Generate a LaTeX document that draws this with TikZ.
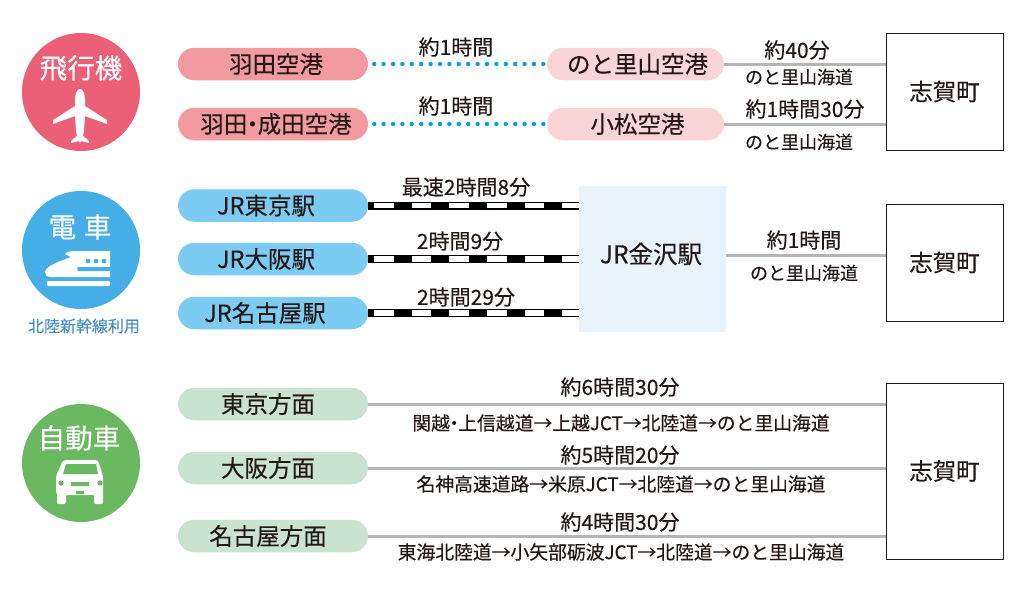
\documentclass[tikz,border=0pt]{standalone}
\usepackage{fontspec}
\setmainfont[FakeBold=0.25]{Noto Sans CJK JP}
\usetikzlibrary{shapes.misc}
\definecolor{txt}{HTML}{231815}
\definecolor{redc}{HTML}{EC6077}
\definecolor{redp}{HTML}{F19BA0}
\definecolor{pinkp}{HTML}{F9D5D6}
\definecolor{bluec}{HTML}{45AEE6}
\definecolor{bluep}{HTML}{7CCBF3}
\definecolor{bluet}{HTML}{4A90C8}
\definecolor{greenc}{HTML}{6AB85F}
\definecolor{greenp}{HTML}{C8E3D0}
\definecolor{paleb}{HTML}{E8F3FB}
\definecolor{roadg}{HTML}{B5B5B5}
\definecolor{dotb}{HTML}{00A0E9}
\newcommand{\sh}[1]{\kern#1pt\relax}
\newcommand{\nd}{\kern-0.28em・\kern-0.28em}
\tikzset{
  x=1pt,y=-1pt,
  pill/.style={rounded rectangle,minimum height=32.5pt,inner sep=0pt,text=txt,font=\fontsize{23.5}{23.5}\selectfont},
  longpill/.style={pill,minimum width=190pt},
  midpill/.style={pill,minimum width=177pt,fill=pinkp},
  dest/.style={draw=txt,line width=1pt,fill=white,minimum width=117pt,inner sep=0pt,text=txt,font=\fontsize{23.4}{23.4}\selectfont},
  lab/.style={inner sep=0pt,text=txt,font=\fontsize{21}{21}\selectfont},
  sub/.style={inner sep=0pt,text=txt,font=\fontsize{18}{18}\selectfont},
  route/.style={inner sep=0pt,text=txt,font=\fontsize{18.8}{18.8}\selectfont},
  disc/.style={circle,minimum size=118pt,inner sep=0pt},
  disclab/.style={inner sep=0pt,text=white,font=\fontsize{27.5}{27.5}\selectfont},
  road/.style={draw=roadg,line width=3pt},
  dots/.style={draw=dotb,line width=4.4pt,line cap=round,dash pattern=on 0pt off 9.4pt,shorten <=6pt,shorten >=3pt},
  rail/.style={draw=black,line width=8pt,
    postaction={draw=white,line width=5.4pt},
    postaction={draw=black,line width=8pt,dash pattern=on 18pt off 19.6pt,dash phase=12pt}}
}
\begin{document}
\begin{tikzpicture}
\useasboundingbox (0,0) rectangle (1024,597);
% discs
\node[disc,fill=redc] (c1) at (81,92) {};
\node[disc,fill=bluec] (c2) at (81,250) {};
\node[disc,fill=greenc] (c3) at (81,463) {};
\node[disclab] (t1) at (81,68) {飛行機};
\node[disclab] (t2) at (80,227) {電\hspace{0.28em}車};
\node[disclab] (t3) at (79,438) {自動車};
\node[inner sep=0pt,text=bluet,font=\fontsize{16}{16}\selectfont] (t2b) at (84,326) {北陸新幹線利用};
% plane
\fill[white] (80,89) .. controls (83,89) and (85,94) .. (85,100) -- (85,106) -- (107,120) -- (107,124) -- (85,116) -- (84,131) -- (83,136) -- (89,141) -- (89,143) -- (81,141) -- (80,143) -- (79,141) -- (71,143) -- (71,141) -- (77,136) -- (76,131) -- (75,116) -- (53,124) -- (53,120) -- (75,106) -- (75,100) .. controls (75,94) and (77,89) .. (80,89) -- cycle;
% train
\fill[white] (110,251) -- (110,277) -- (50,277) .. controls (46,277) and (45,274) .. (45,272) .. controls (46,266) and (58,262) .. (71,257) -- (65,254) -- (67,252) -- (72,251) -- cycle;
\fill[bluec] (78,267) -- (110,267) -- (110,271) -- (78,271) .. controls (77,271) and (77,267) .. (78,267) -- cycle;
\fill[bluec] (86,259) rectangle (90,263) (94,259) rectangle (98,263) (102,259) rectangle (106,263);
\fill[white,rounded corners=1pt] (47,281) rectangle (110,286);
% car
\fill[white,rounded corners=3pt] (56,495) -- (56,476) -- (63,460) -- (98,460) -- (103,476) -- (103,495) -- cycle;
\fill[white,rounded corners=1.5pt] (57,490) rectangle (66,504) (94,490) rectangle (103,504);
\fill[greenc] (66,464) -- (96,464) -- (98,474) -- (63,474) -- cycle;
\fill[greenc] (61,483) circle (2.6) (100,483) circle (2.6);
\fill[greenc] (71,482) rectangle (89,486) (76,491) rectangle (84,494);
% air row
\node[longpill,fill=redp] (a1) at (273,64) {\sh{6}羽田空港};
\node[longpill,fill=redp] (a2) at (273,124) {\sh{6}羽田\nd 成田空港};
\node[midpill] (m1) at (635.5,64) {\sh{4}のと里山空港};
\node[midpill] (m2) at (635.5,124) {\sh{4}小松空港};
\node[dest,minimum height=117pt] (d1) at (944.5,91.5) {志賀町};
\draw[dots] (a1) -- (m1);
\draw[dots] (a2) -- (m2);
\draw[road] (m1.east) -- (m1.east -| d1.west);
\draw[road] (m2.east) -- (m2.east -| d1.west);
\node[lab] (l1) at (456,47) {約1時間};
\node[lab] (l2) at (456,106) {約1時間};
\node[lab] (l3) at (797,50) {約40分};
\node[sub] (l4) at (799,77) {のと里山海道};
\node[lab] (l5) at (805,109) {約1時間30分};
\node[sub] (l6) at (799,142) {のと里山海道};
% rail row
\node[longpill,fill=bluep] (r1) at (273,205.5) {\sh{-14}JR東京駅};
\node[longpill,fill=bluep] (r2) at (273,259) {\sh{-14}JR大阪駅};
\node[longpill,fill=bluep] (r3) at (273,313) {\sh{-16}JR名古屋駅};
\node[fill=paleb,minimum width=147pt,minimum height=146pt,inner sep=0pt] (kz) at (652.5,259) {};
\node[inner sep=0pt,text=txt,font=\fontsize{24.5}{24.5}\selectfont] (kzt) at (651,254) {JR金沢駅};
\node[dest,minimum height=117pt] (d2) at (944.5,262.5) {志賀町};
\coordinate (kzr) at (726,255.5);
\draw[rail] (r1.east) -- (r1.east -| kz.west);
\draw[rail] (r2.east) -- (r2.east -| kz.west);
\draw[rail] (r3.east) -- (r3.east -| kz.west);
\draw[road] (kzr) -- (kzr -| d2.west);
\node[lab] (l7) at (466,187) {最速2時間8分};
\node[lab] (l8) at (460,241) {2時間9分};
\node[lab] (l9) at (466,297) {2時間29分};
\node[lab] (l10) at (804,240) {約1時間};
\node[sub] (l11) at (804,273) {のと里山海道};
% road row
\node[longpill,fill=greenp] (g1) at (273,404) {\sh{-10}東京方面};
\node[longpill,fill=greenp] (g2) at (273,468) {\sh{-10}大阪方面};
\node[longpill,fill=greenp] (g3) at (273,536) {\sh{-10}名古屋方面};
\node[dest,minimum height=176pt] (d3) at (944.5,471) {志賀町};
\draw[road] (g1.east) -- (g1.east -| d3.west);
\draw[road] (g2.east) -- (g2.east -| d3.west);
\draw[road] (g3.east) -- (g3.east -| d3.west);
\node[lab] (l12) at (620,387) {約6時間30分};
\node[route] (l13) at (621,423) {関越\nd 上信越道→上越JCT→北陸道→のと里山海道};
\node[lab] (l14) at (620,455) {約5時間20分};
\node[route] (l15) at (621,484) {名神高速道路→米原JCT→北陸道→のと里山海道};
\node[lab] (l16) at (620,522) {約4時間30分};
\node[route] (l17) at (621,552) {東海北陸道→小矢部砺波JCT→北陸道→のと里山海道};
\end{tikzpicture}
\end{document}
